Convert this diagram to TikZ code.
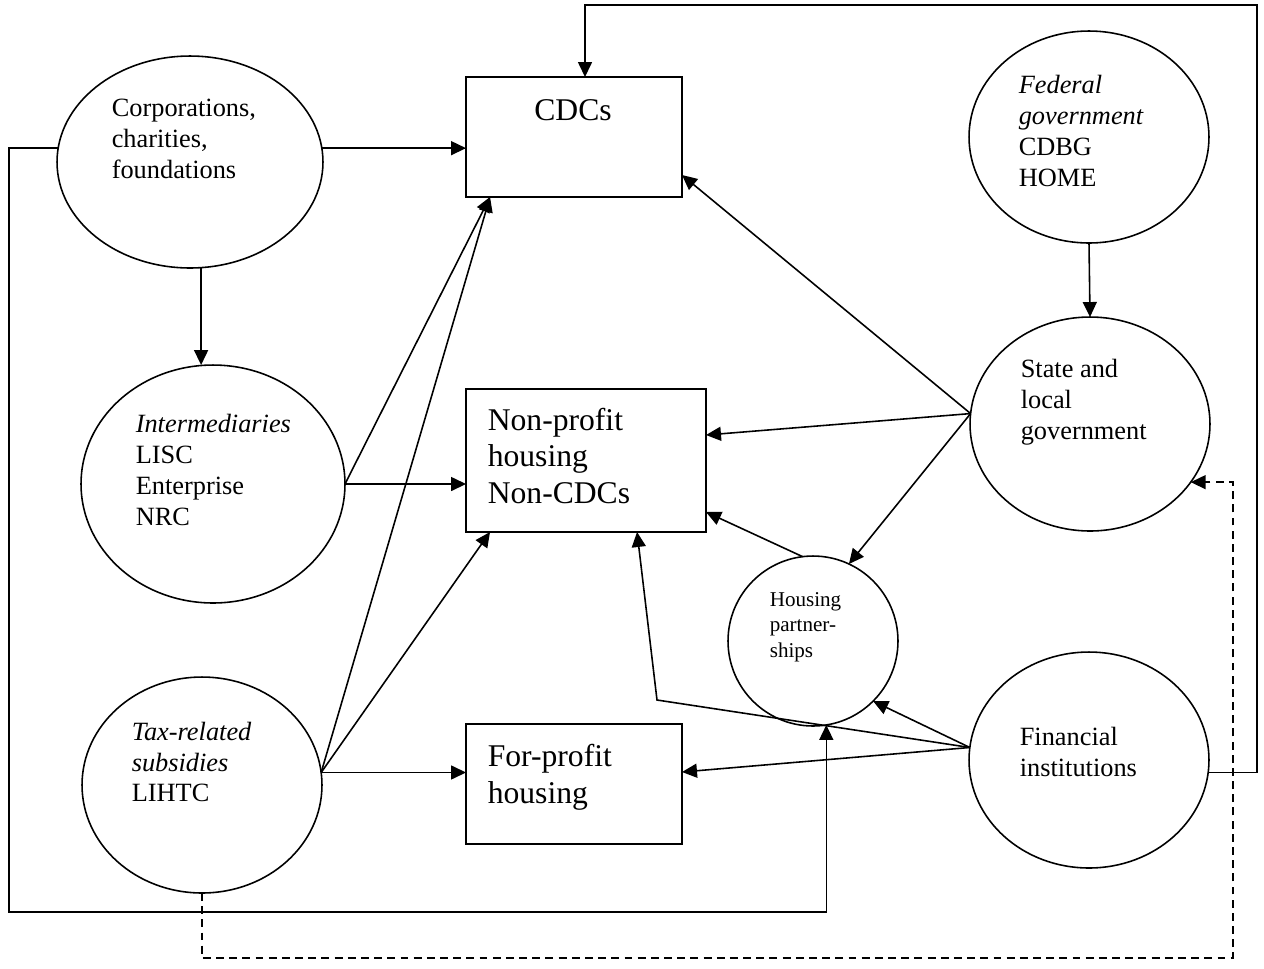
\documentclass[tikz,border=0pt]{standalone}
\usepackage{fontspec}
\setmainfont{Liberation Serif}
\usetikzlibrary{shapes.geometric,arrows.meta,calc}

\begin{document}
\begin{tikzpicture}[x=0.02cm, y=-0.02cm, ->, >={Triangle[length=0.3cm,width=0.28cm]}, line width=0.9pt,
    oval/.style={ellipse, draw, outer sep=0pt, inner sep=0pt},
    box/.style={rectangle, draw, outer sep=0pt, inner sep=0pt},
    big/.style={font=\fontsize{18}{21}\selectfont, align=left, inner sep=0pt},
    mid/.style={font=\fontsize{15}{17.6}\selectfont, align=left, anchor=west, inner sep=0pt},
    small/.style={font=\fontsize{12}{14.5}\selectfont, align=left, anchor=west, inner sep=0pt}]
    \useasboundingbox (0,0) rectangle (1264,968);

    % sources on the left
    \node [oval, minimum width=5.32cm, minimum height=4.24cm] (corp) at (190,162) {};
    \node [mid] (corptext) at (111,139) {Corporations,\\charities,\\foundations};
    \node [oval, minimum width=5.28cm, minimum height=4.76cm] (inter) at (213,484) {};
    \node [mid] (intertext) at (135,470) {\textit{Intermediaries}\\LISC\\Enterprise\\NRC};
    \node [oval, minimum width=4.8cm, minimum height=4.32cm] (tax) at (202,785) {};
    \node [mid] (taxtext) at (131,762) {\textit{Tax-related}\\\textit{subsidies}\\LIHTC};

    % sources on the right
    \node [oval, minimum width=4.8cm, minimum height=4.24cm] (fed) at (1089,137) {};
    \node [mid] (fedtext) at (1018,131) {\textit{Federal}\\\textit{government}\\CDBG\\HOME};
    \node [oval, minimum width=4.8cm, minimum height=4.28cm] (state) at (1090,424) {};
    \node [mid] (statetext) at (1020,402) {State and\\local\\government};
    \node [oval, minimum width=4.8cm, minimum height=4.32cm] (fin) at (1089,760) {};
    \node [mid] (fintext) at (1019,752) {Financial\\institutions};
    \node [circle, draw, minimum size=3.4cm, outer sep=0pt] (hp) at (813,641) {};
    \node [small] (hptext) at (769,627) {Housing\\partner-\\ships};

    % producers
    \node [box, minimum width=4.32cm, minimum height=2.4cm] (cdc) at (574,137) {};
    \node [big] (cdctext) at (573,110) {CDCs};
    \node [box, minimum width=4.8cm, minimum height=2.86cm] (np) at (586,460.5) {};
    \node [big, anchor=west] (nptext) at (487,456) {Non-profit\\housing\\Non-CDCs};
    \node [box, minimum width=4.32cm, minimum height=2.4cm] (fp) at (574,784) {};
    \node [big, anchor=west] (fptext) at (487,777) {For-profit\\housing};

    \coordinate (bend) at (657,700);
    \coordinate (lowleft) at (9,912);
    \coordinate (topright) at (1257,5);
    \coordinate (lowright) at (1233,958);

    \draw (corp.6) -- (corp.6 -| cdc.west);
    \draw (corp.-84) -- (corp.-84 |- inter.north);
    \draw (inter.east) -- (inter.east -| np.west);
    \draw (inter.east) -- ($(cdc.south west)+(24,0)$);
    \draw (tax.6) -- (tax.6 -| fp.west);
    \draw (tax.6) -- ($(np.south west)+(24,0)$);
    \draw (tax.6) -- ($(cdc.south west)+(24,0)$);
    \draw (fed.south) -- (state.north);
    \draw (state.175) -- ($(cdc.south east)+(0,-22)$);
    \draw (state.175) -- ($(np.north east)+(0,46)$);
    \draw (state.175) -- (hp.65);
    \draw (hp.97) -- ($(np.south east)+(0,-20)$);
    \draw (fin.174) -- ($(fp.east)+(0,-12)$);
    \draw (fin.174) -- (hp.-45);
    \draw (fin.174) -- (bend) -- ($(np.south west)+(171,0)$);
    \draw (corp.174) -| (lowleft) -| (hp.-81);
    \draw (fin.-6) -| (topright) -| ($(cdc.north)+(11,0)$);
    \draw [dash pattern=on 4.5pt off 3pt] (tax.south) |- (lowright) |- (state.-30);
\end{tikzpicture}
\end{document}
